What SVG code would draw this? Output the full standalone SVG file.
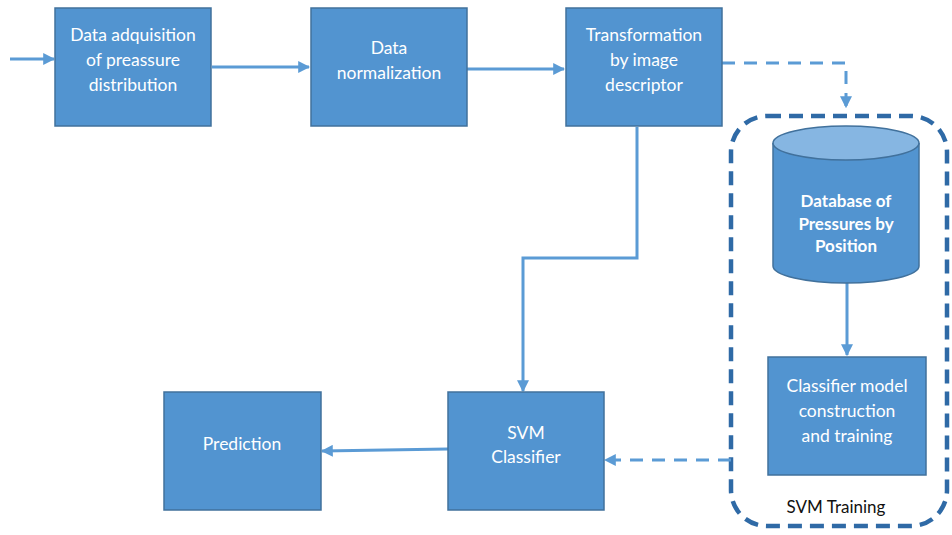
<svg xmlns="http://www.w3.org/2000/svg" width="952" height="535" viewBox="0 0 952 535">
<defs>
<style>
.box{fill:#5294d0;stroke:#41719c;stroke-width:1.5}
.t{font-family:Lato,"Liberation Sans",sans-serif;font-size:17.5px;fill:#ffffff;text-anchor:middle}
.tb{font-family:Lato,"Liberation Sans",sans-serif;font-size:17px;font-weight:bold;fill:#ffffff;text-anchor:middle}
.c{fill:none;stroke:#5b9bd5;stroke-width:3}
.d{fill:none;stroke:#5b9bd5;stroke-width:3;stroke-dasharray:13 9}
</style>
<marker id="ah" viewBox="0 0 10 10" refX="9" refY="5" markerWidth="4" markerHeight="4" orient="auto" markerUnits="strokeWidth">
<path d="M0,0 L10,5 L0,10 z" fill="#5b9bd5"/>
</marker>
</defs>
<rect width="952" height="535" fill="#ffffff"/>
<g id="training-group">
<rect x="731" y="116" width="216" height="410" rx="36" ry="36" fill="none" stroke="#2f6aa6" stroke-width="4.5" stroke-dasharray="14 8"/>
<text x="836" y="513" style="font-family:Lato,'Liberation Sans',sans-serif;font-size:17px;fill:#111;text-anchor:middle">SVM Training</text>
</g>
<g id="connectors">
<line x1="10" y1="59" x2="54" y2="59" class="c" marker-end="url(#ah)"/>
<line x1="212" y1="67" x2="309" y2="67" class="c" marker-end="url(#ah)"/>
<line x1="467" y1="69" x2="564" y2="69" class="c" marker-end="url(#ah)"/>
<polyline points="722,63 846,63 846,107" class="d" marker-end="url(#ah)"/>
<polyline points="637,127 637,258 523,258 523,391" class="c" marker-end="url(#ah)"/>
<line x1="847" y1="283" x2="847" y2="355" class="c" marker-end="url(#ah)"/>
<line x1="448" y1="449" x2="322" y2="451" class="c" marker-end="url(#ah)"/>
<polyline points="731,460 605,460" class="d" marker-end="url(#ah)"/>
</g>
<g id="n1">
<rect x="55" y="8" width="156" height="118" class="box"/>
<text x="133" y="41" class="t">Data adquisition</text>
<text x="133" y="66" class="t">of preassure</text>
<text x="133" y="91" class="t">distribution</text>
</g>
<g id="n2">
<rect x="311" y="8" width="156" height="118" class="box"/>
<text x="389" y="54" class="t">Data</text>
<text x="389" y="79" class="t">normalization</text>
</g>
<g id="n3">
<rect x="566" y="8" width="156" height="118" class="box"/>
<text x="644" y="41" class="t">Transformation</text>
<text x="644" y="66" class="t">by image</text>
<text x="644" y="91" class="t">descriptor</text>
</g>
<g id="n4">
<path d="M773,143 L773,266 A73,17 0 0 0 919,266 L919,143" class="box"/>
<ellipse cx="846" cy="143" rx="73" ry="17" fill="#86b6e2" stroke="#41719c" stroke-width="1.5"/>
<text x="846" y="207" class="tb">Database of</text>
<text x="846" y="230" class="tb">Pressures by</text>
<text x="846" y="252" class="tb">Position</text>
</g>
<g id="n5">
<rect x="768" y="357" width="158" height="118" class="box"/>
<text x="847" y="392" class="t">Classifier model</text>
<text x="847" y="417" class="t">construction</text>
<text x="847" y="442" class="t">and training</text>
</g>
<g id="n6">
<rect x="448" y="392" width="156" height="118" class="box"/>
<text x="526" y="439" class="t">SVM</text>
<text x="526" y="463" class="t">Classifier</text>
</g>
<g id="n7">
<rect x="164" y="392" width="157" height="118" class="box"/>
<text x="242" y="450" class="t">Prediction</text>
</g>
</svg>
